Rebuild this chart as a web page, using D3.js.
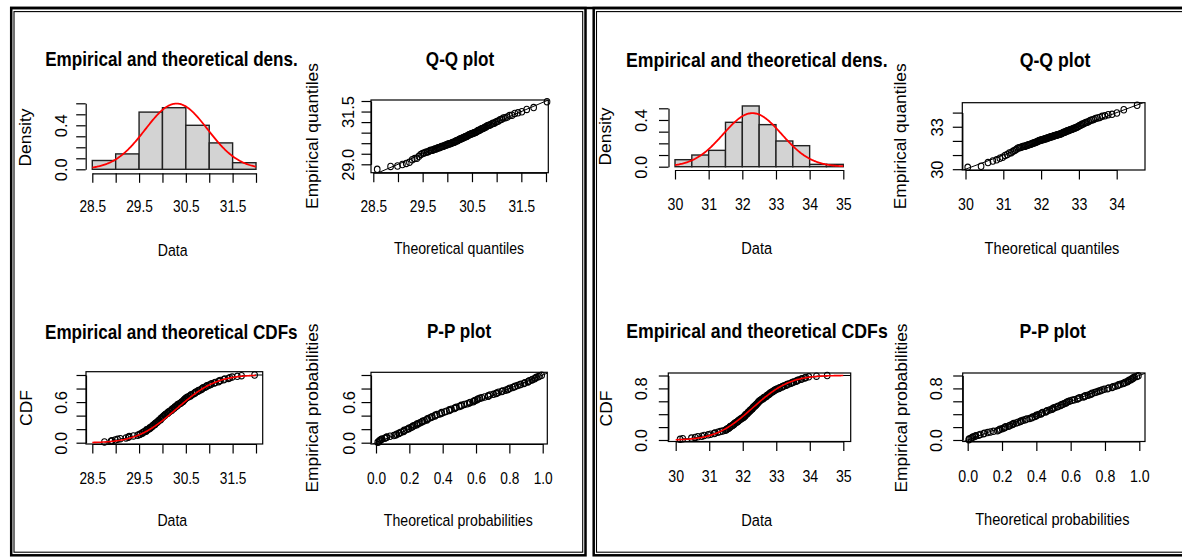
<!DOCTYPE html>
<meta charset="utf-8">
<style>
body { margin: 0; background: #fff; }
svg { display: block; font-family: "Liberation Sans", Arial, sans-serif; }
</style>
<body>
<svg width="1182" height="559"></svg>
<script src="https://d3js.org/d3.v7.min.js"></script>
<script>
// sorted observations, left fit (A) and right fit (B)
var sampleA = [28.76, 28.9, 28.92, 28.99,
  29.04, 29.1, 29.22, 29.27, 29.29, 29.38, 29.47,
  29.51, 29.53, 29.57, 29.58, 29.61, 29.65, 29.66, 29.66, 29.7, 29.73, 29.73, 29.76, 29.78,
  29.79, 29.81, 29.84, 29.84, 29.86, 29.88, 29.9, 29.91, 29.93, 29.96, 29.96, 29.97, 29.99,
  30.01, 30.02, 30.05, 30.05, 30.07, 30.1, 30.12, 30.12, 30.15, 30.17, 30.2, 30.2, 30.22,
  30.25, 30.26, 30.27, 30.3, 30.32, 30.32, 30.35, 30.38, 30.4, 30.41, 30.44, 30.45, 30.46,
  30.48, 30.49,
  30.51, 30.53, 30.56, 30.6, 30.6, 30.62, 30.66, 30.69, 30.7, 30.72, 30.76, 30.77, 30.81,
  30.84, 30.85, 30.87, 30.91, 30.94, 30.95, 30.99,
  31.03, 31.05, 31.11, 31.13, 31.2, 31.21, 31.24, 31.31, 31.33, 31.41, 31.44, 31.49,
  31.6, 31.69, 31.97];
var sampleB = [30.13, 30.21, 30.47,
  30.58, 30.66, 30.78, 30.85, 30.97,
  31.04, 31.15, 31.17, 31.26, 31.33, 31.4, 31.48,
  31.51, 31.53, 31.57, 31.6, 31.62, 31.63, 31.68, 31.7, 31.73, 31.75, 31.76, 31.8, 31.83,
  31.86, 31.87, 31.9, 31.93, 31.95, 31.99,
  32.02, 32.03, 32.06, 32.08, 32.08, 32.11, 32.14, 32.15, 32.16, 32.2, 32.21, 32.22, 32.25,
  32.28, 32.29, 32.3, 32.32, 32.35, 32.36, 32.39, 32.4, 32.42, 32.44, 32.46, 32.47, 32.49,
  32.51, 32.54, 32.57, 32.61, 32.62, 32.64, 32.69, 32.71, 32.72, 32.76, 32.79, 32.81, 32.82,
  32.86, 32.89, 32.92, 32.95, 32.98,
  33.02, 33.08, 33.1, 33.17, 33.19, 33.24, 33.3, 33.32, 33.37, 33.44, 33.48,
  33.52, 33.59, 33.62, 33.66, 33.74, 33.77, 33.85, 33.88, 33.97,
  34.2, 34.52];

// fitted normal parameters
var meanA = 30.3, sdA = 0.668;
var meanB = 32.3, sdB = 0.87;

// histogram breaks
var breaksA = [28.5, 29, 29.5, 30, 30.5, 31, 31.5, 32];
var breaksB = [30, 30.5, 31, 31.5, 32, 32.5, 33, 33.5, 34, 34.5, 35];

// ticks and the labels R kept
var dataTicksA = [28.5, 29, 29.5, 30, 30.5, 31, 31.5, 32];
var dataLabelsA = [28.5, 29.5, 30.5, 31.5];
var densTicksA = [0, 0.1, 0.2, 0.3, 0.4, 0.5, 0.6];
var densLabelsA = [0, 0.4];
var qqTicksYA = [29, 29.5, 30, 30.5, 31, 31.5, 32];
var qqLabelsYA = [29, 31.5];
var dataTicksB = [30, 31, 32, 33, 34, 35];
var densTicksB = [0, 0.1, 0.2, 0.3, 0.4, 0.5];
var densLabelsB = [0, 0.4];
var qqTicksB = [30, 31, 32, 33, 34];
var qqLabelsYB = [30, 33];
var probTicks = [0, 0.2, 0.4, 0.6, 0.8, 1];
var probLabelsA = [0, 0.6];
var probLabelsB = [0, 0.8];

var svg = d3.select("svg");
var TICK = 9.5;
var fmt1 = d3.format(".1f"), fmt0 = d3.format("d");

function erf(x) {
  var s = x < 0 ? -1 : 1; x = Math.abs(x);
  var t = 1 / (1 + 0.3275911 * x);
  var y = 1 - (((((1.061405429 * t - 1.453152027) * t) + 1.421413741) * t - 0.284496736) * t + 0.254829592) * t * Math.exp(-x * x);
  return s * y;
}
function pnorm(x, m, s) { return 0.5 * (1 + erf((x - m) / (s * Math.SQRT2))); }
function dnorm(x, m, s) { var z = (x - m) / s; return Math.exp(-0.5 * z * z) / (s * Math.sqrt(2 * Math.PI)); }
function qnorm(p, m, s) {
  var lo = m - 10 * s, hi = m + 10 * s;
  for (var k = 0; k < 80; k++) { var mid = (lo + hi) / 2; if (pnorm(mid, m, s) < p) lo = mid; else hi = mid; }
  return (lo + hi) / 2;
}

function htext(x, y, str, size, bold, sx) {
  svg.append("text")
    .attr("transform", "translate(" + x + "," + y + ") scale(" + sx + ",1)")
    .attr("text-anchor", "middle")
    .style("font-size", size + "px")
    .style("font-weight", bold ? "bold" : "normal")
    .text(str);
}
function vtext(x, y, str, size) {
  svg.append("text")
    .attr("transform", "translate(" + x + "," + y + ") rotate(-90)")
    .attr("text-anchor", "middle")
    .style("font-size", size + "px")
    .text(str);
}

function axisX(scale, y, ticks, labels, fmt, baseline, sx) {
  var a = svg.append("g").attr("transform", "translate(0," + y + ")")
    .call(d3.axisBottom(scale).tickValues(ticks).tickSize(TICK).tickSizeOuter(0)
      .tickFormat(function(d) { return labels.indexOf(d) >= 0 ? fmt(d) : ""; }));
  a.attr("font-family", null).attr("font-size", null);
  a.selectAll("path, line").attr("stroke-width", 1.2);
  a.selectAll("text").attr("y", baseline - y).attr("dy", null)
    .attr("transform", "scale(" + sx + ",1)")
    .style("font-size", "16.5px");
}
function axisY(scale, x, ticks, labels, fmt, baseline) {
  var a = svg.append("g").attr("transform", "translate(" + x + ",0)")
    .call(d3.axisLeft(scale).tickValues(ticks).tickSize(TICK).tickSizeOuter(0)
      .tickFormat(function(d) { return labels.indexOf(d) >= 0 ? fmt(d) : ""; }));
  a.attr("font-family", null).attr("font-size", null);
  a.selectAll("path, line").attr("stroke-width", 1.2);
  a.selectAll("text").attr("x", 0).attr("dy", null).attr("text-anchor", "middle")
    .attr("transform", "translate(" + (baseline - x) + ",0) rotate(-90)")
    .style("font-size", "16.5px");
}

function plot(o) {
  var x = d3.scaleLinear().domain(o.xd).range(o.xr);
  var y = d3.scaleLinear().domain(o.yd).range(o.yr);
  if (o.box) {
    svg.append("rect").attr("x", o.box[0]).attr("y", o.box[1])
      .attr("width", o.box[2] - o.box[0]).attr("height", o.box[3] - o.box[1])
      .attr("fill", "none").attr("stroke", "#000").attr("stroke-width", 1.2);
  }
  axisX(x, o.axX, o.xt, o.xl, o.xf, o.xb, o.sx);
  axisY(y, o.axY, o.yt, o.yl, o.yf, o.yb);
  htext(o.title[0], o.title[1], o.titleText, 20, true, o.tsx);
  htext(o.xlab[0], o.xlab[1], o.xlabText, 17, false, o.sx);
  vtext(o.ylab[0], o.ylab[1], o.ylabText, 17.4);
  return { x: x, y: y };
}

function points(s, data) {
  svg.append("g").selectAll("ellipse").data(data).enter().append("ellipse")
    .attr("cx", function(d) { return s.x(d[0]); })
    .attr("cy", function(d) { return s.y(d[1]); })
    .attr("rx", 2.8).attr("ry", 3.2)
    .attr("fill", "none").attr("stroke", "#000").attr("stroke-width", 1.1);
}

function clipBox(id, box) {
  svg.append("clipPath").attr("id", id).append("rect")
    .attr("x", box[0]).attr("y", box[1]).attr("width", box[2] - box[0]).attr("height", box[3] - box[1]);
}

function drawPanel(p) {
  var sample = p.sample, n = sample.length, m = p.mean, sd = p.sd;
  var lo = p.breaks[0], hi = p.breaks[p.breaks.length - 1];
  var pp = sample.map(function(d, i) { return (i + 0.5) / n; });

  // density
  var s1 = plot(p.dens);
  var bins = d3.bin().domain([lo, hi]).thresholds(p.breaks.slice(1, -1))(sample);
  svg.append("g").selectAll("rect").data(bins).enter().append("rect")
    .attr("x", function(b) { return s1.x(b.x0); })
    .attr("width", function(b) { return s1.x(b.x1) - s1.x(b.x0); })
    .attr("y", function(b) { return s1.y(b.length / (n * (b.x1 - b.x0))); })
    .attr("height", function(b) { return s1.y(0) - s1.y(b.length / (n * (b.x1 - b.x0))); })
    .attr("fill", "#d3d3d3").attr("stroke", "#222").attr("stroke-width", 1.4);
  var grid = d3.range(0, 201).map(function(i) { return lo + (hi - lo) * i / 200; });
  svg.append("path").datum(grid)
    .attr("d", d3.line().x(function(d) { return s1.x(d); }).y(function(d) { return s1.y(dnorm(d, m, sd)); }))
    .attr("fill", "none").attr("stroke", "#ff0000").attr("stroke-width", 1.8);

  // Q-Q
  var s2 = plot(p.qq);
  clipBox(p.id + "qq", p.qq.box);
  var d0 = s2.x.invert(p.qq.box[0]), d1 = s2.x.invert(p.qq.box[2]);
  svg.append("line").attr("clip-path", "url(#" + p.id + "qq)")
    .attr("x1", s2.x(d0)).attr("y1", s2.y(d0)).attr("x2", s2.x(d1)).attr("y2", s2.y(d1))
    .attr("stroke", "#000").attr("stroke-width", 1);
  points(s2, sample.map(function(d, i) { return [qnorm(pp[i], m, sd), d]; }));

  // CDF
  var s3 = plot(p.cdf);
  clipBox(p.id + "cdf", p.cdf.box);
  var steps = svg.append("g").attr("clip-path", "url(#" + p.id + "cdf)");
  sample.forEach(function(d, i) {
    var next = i < n - 1 ? sample[i + 1] : s3.x.invert(p.cdf.box[2]);
    steps.append("line").attr("x1", s3.x(d)).attr("x2", s3.x(next))
      .attr("y1", s3.y((i + 1) / n)).attr("y2", s3.y((i + 1) / n))
      .attr("stroke", "#000").attr("stroke-width", 1);
  });
  points(s3, sample.map(function(d, i) { return [d, (i + 1) / n]; }));
  svg.append("path").datum(grid)
    .attr("d", d3.line().x(function(d) { return s3.x(d); }).y(function(d) { return s3.y(pnorm(d, m, sd)); }))
    .attr("fill", "none").attr("stroke", "#ff0000").attr("stroke-width", 1.6);

  // P-P
  var s4 = plot(p.pp);
  clipBox(p.id + "pp", p.pp.box);
  var e0 = s4.x.invert(p.pp.box[0]), e1 = s4.x.invert(p.pp.box[2]);
  svg.append("line").attr("clip-path", "url(#" + p.id + "pp)")
    .attr("x1", s4.x(e0)).attr("y1", s4.y(e0)).attr("x2", s4.x(e1)).attr("y2", s4.y(e1))
    .attr("stroke", "#000").attr("stroke-width", 1);
  points(s4, sample.map(function(d, i) { return [pnorm(d, m, sd), pp[i]]; }));
}

// frames
function frame(x0, x1) {
  svg.append("rect").attr("x", x0).attr("y", 8).attr("width", x1 - x0).attr("height", 547.3)
    .attr("fill", "none").attr("stroke", "#000").attr("stroke-width", 2.5);
  svg.append("rect").attr("x", x0 + 2.8).attr("y", 11.6).attr("width", x1 - x0 - 5.6).attr("height", 540.6)
    .attr("fill", "none").attr("stroke", "#000").attr("stroke-width", 1.1);
}
frame(11.2, 585.5);
frame(593.7, 1195);
svg.append("line").attr("x1", 10).attr("x2", 1182).attr("y1", 8).attr("y2", 8)
  .attr("stroke", "#000").attr("stroke-width", 2.5);

var sxA = 0.83, tsxA = 0.855, sxB = 0.86, tsxB = 0.885;

drawPanel({
  id: "a", sample: sampleA, mean: meanA, sd: sdA, breaks: breaksA,
  dens: { xd: [28.5, 32], xr: [92.3, 256], yd: [0, 0.6], yr: [169.3, 103.3],
    axX: 173.3, xt: dataTicksA, xl: dataLabelsA, xf: fmt1, xb: 212,
    axY: 85.7, yt: densTicksA, yl: densLabelsA, yf: fmt1, yb: 67,
    title: [171.5, 66], titleText: "Empirical and theoretical dens.",
    xlab: [172.7, 255.5], xlabText: "Data", ylab: [31, 137.5], ylabText: "Density", sx: sxA, tsx: tsxA },
  qq: { box: [371, 100, 548.3, 172.7], xd: [28.5, 32], xr: [373.3, 546], yd: [29, 32], yr: [164.3, 101],
    axX: 172.7, xt: dataTicksA, xl: dataLabelsA, xf: fmt1, xb: 212,
    axY: 371, yt: qqTicksYA, yl: qqLabelsYA, yf: fmt1, yb: 353.8,
    title: [460, 66], titleText: "Q-Q plot",
    xlab: [459, 254], xlabText: "Theoretical quantiles", ylab: [318, 136], ylabText: "Empirical quantiles", sx: sxA, tsx: tsxA },
  cdf: { box: [86, 371.7, 262.7, 444], xd: [28.5, 32], xr: [92.3, 256], yd: [0, 1], yr: [442.7, 375],
    axX: 444, xt: dataTicksA, xl: dataLabelsA, xf: fmt1, xb: 484,
    axY: 86, yt: probTicks, yl: probLabelsA, yf: fmt1, yb: 67.3,
    title: [171.3, 338.5], titleText: "Empirical and theoretical CDFs",
    xlab: [172.3, 526.3], xlabText: "Data", ylab: [31.7, 408], ylabText: "CDF", sx: sxA, tsx: tsxA },
  pp: { box: [371, 372.3, 547.3, 444], xd: [0, 1], xr: [376, 542.7], yd: [0, 1], yr: [442.7, 375],
    axX: 444, xt: probTicks, xl: probTicks, xf: fmt1, xb: 484,
    axY: 371, yt: probTicks, yl: probLabelsA, yf: fmt1, yb: 354.5,
    title: [459, 338], titleText: "P-P plot",
    xlab: [458.3, 525.5], xlabText: "Theoretical probabilities", ylab: [318, 408], ylabText: "Empirical probabilities", sx: sxA, tsx: tsxA }
});

drawPanel({
  id: "b", sample: sampleB, mean: meanB, sd: sdB, breaks: breaksB,
  dens: { xd: [30, 35], xr: [675, 843.3], yd: [0, 0.5], yr: [166.7, 108.3],
    axX: 170, xt: dataTicksB, xl: dataTicksB, xf: fmt0, xb: 210.5,
    axY: 668.5, yt: densTicksB, yl: densLabelsB, yf: fmt1, yb: 647,
    title: [756.8, 66.5], titleText: "Empirical and theoretical dens.",
    xlab: [756.7, 254], xlabText: "Data", ylab: [611, 136.5], ylabText: "Density", sx: sxB, tsx: tsxB },
  qq: { box: [962.3, 102.7, 1145, 170], xd: [30, 34], xr: [965.5, 1116.7], yd: [30, 34], yr: [169.2, 112.6],
    axX: 170, xt: qqTicksB, xl: qqTicksB, xf: fmt0, xb: 210.5,
    axY: 962.3, yt: qqTicksB, yl: qqLabelsYB, yf: fmt0, yb: 943.3,
    title: [1055, 66.5], titleText: "Q-Q plot",
    xlab: [1052, 253.5], xlabText: "Theoretical quantiles", ylab: [906, 136.3], ylabText: "Empirical quantiles", sx: sxB, tsx: tsxB },
  cdf: { box: [668.3, 373, 850.7, 441.5], xd: [30, 35], xr: [675.7, 843.3], yd: [0, 1], yr: [440, 375.5],
    axX: 441.5, xt: dataTicksB, xl: dataTicksB, xf: fmt0, xb: 481.7,
    axY: 668.3, yt: probTicks, yl: probLabelsB, yf: fmt1, yb: 647.3,
    title: [757, 338.3], titleText: "Empirical and theoretical CDFs",
    xlab: [756.7, 525.5], xlabText: "Data", ylab: [611.5, 408.5], ylabText: "CDF", sx: sxB, tsx: tsxB },
  pp: { box: [962.7, 373, 1145, 441.5], xd: [0, 1], xr: [967.7, 1139.3], yd: [0, 1], yr: [440, 375.5],
    axX: 441.5, xt: probTicks, xl: probTicks, xf: fmt1, xb: 481.7,
    axY: 962.7, yt: probTicks, yl: probLabelsB, yf: fmt1, yb: 941.7,
    title: [1052.7, 338.3], titleText: "P-P plot",
    xlab: [1052.3, 525], xlabText: "Theoretical probabilities", ylab: [907, 408], ylabText: "Empirical probabilities", sx: sxB, tsx: tsxB }
});
</script>
</body>
